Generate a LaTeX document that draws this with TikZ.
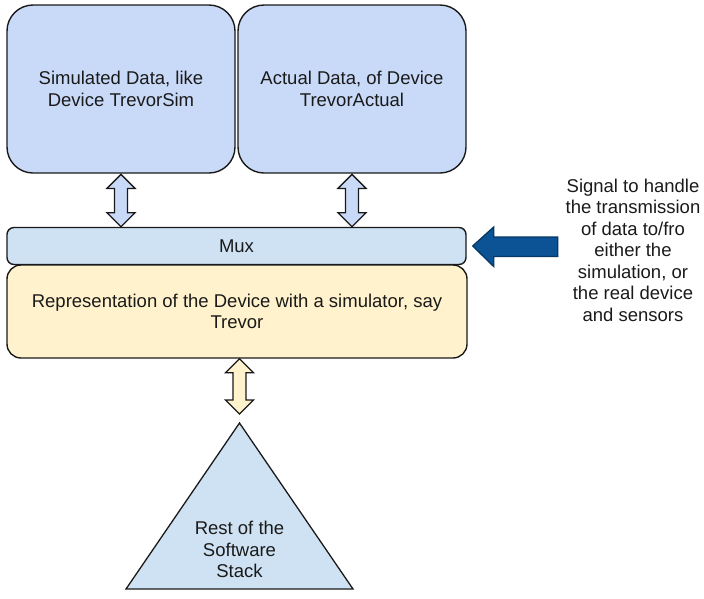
\documentclass[tikz,border=0pt]{standalone}
\usepackage{fontspec}
\setmainfont{Liberation Sans}
\usetikzlibrary{calc}
\definecolor{boxblue}{HTML}{C9DAF8}
\definecolor{muxblue}{HTML}{CFE2F3}
\definecolor{repyellow}{HTML}{FFF2CC}
\definecolor{sigblue}{HTML}{0B5394}
\definecolor{sigedge}{HTML}{073763}
\definecolor{inkc}{HTML}{1A1A1A}
\newcommand\vdarrow[3]{%
  \draw[dblarrow, fill=#3] let \p1=(#1), \p2=(#2) in
    (\x1,\y1) -- (\x1+14pt,\y1-14pt) -- (\x1+6.5pt,\y1-14pt) -- (\x1+6.5pt,\y2+14pt)
    -- (\x1+14pt,\y2+14pt) -- (\x1,\y2) -- (\x1-14pt,\y2+14pt) -- (\x1-6.5pt,\y2+14pt)
    -- (\x1-6.5pt,\y1-14pt) -- (\x1-14pt,\y1-14pt) -- cycle;}
\begin{document}
\begin{tikzpicture}[x=1pt,y=-1pt,
  every node/.style={font=\fontsize{18.5}{21.5}\selectfont, align=center, text=inkc},
  databox/.style={draw=inkc, line width=1.4pt, rounded corners=26pt, fill=boxblue,
    minimum width=228pt, minimum height=168pt, inner sep=0pt},
  muxbox/.style={draw=inkc, line width=1.4pt, rounded corners=7pt, fill=muxblue,
    minimum width=459pt, minimum height=37pt, inner sep=0pt},
  repbox/.style={draw=inkc, line width=1.4pt, rounded corners=14pt, fill=repyellow,
    minimum width=460pt, minimum height=93pt, inner sep=0pt},
  dblarrow/.style={draw=inkc, line width=1.3pt, line join=miter},
  sigarrow/.style={draw=sigedge, line width=1.3pt, fill=sigblue, line join=miter},
  stackshape/.style={draw=inkc, line width=1.3pt, fill=muxblue, line join=miter},
  plaintext/.style={inner sep=0pt}]
\useasboundingbox (0,0) rectangle (704,598);
\node[databox] (sim) at (121,89) {Simulated Data, like\\Device TrevorSim};
\node[databox] (act) at (352,89) {Actual Data, of Device\\TrevorActual};
\node[muxbox] (mux) at (236.5,246) {Mux};
\node[repbox] (rep) at (237,311.5) {Representation of the Device with a simulator, say\\Trevor};
\coordinate (apex) at (239.5,423);
\coordinate (baseR) at (353,589);
\coordinate (baseL) at (126,589);
\draw[stackshape] (apex) -- (baseR) -- (baseL) -- cycle;
\node[plaintext] (stack) at (239.5,549.5) {Rest of the\\Software\\Stack};
\node[plaintext] (sig) at (633,250) {Signal to handle\\the transmission\\of data to/fro\\either the\\simulation, or\\the real device\\and sensors};
\coordinate (simbot) at ($(sim.south)+(0,0.7)$);
\coordinate (actbot) at ($(act.south)+(0,0.7)$);
\vdarrow{simbot}{sim.south |- mux.north}{boxblue}
\vdarrow{actbot}{act.south |- mux.north}{boxblue}
\coordinate (repbot) at (apex |- rep.south);
\coordinate (stacktop) at ($(apex)+(0,-9)$);
\vdarrow{repbot}{stacktop}{repyellow}
\coordinate (tip) at ($(mux.east)+(6,0)$);
\draw[sigarrow] (tip) -- ++(21,-19) -- ++(0,10) -- ++(64,0) -- ++(0,19.5) -- ++(-64,0)
  -- ++(0,10) -- cycle;
\end{tikzpicture}
\end{document}
